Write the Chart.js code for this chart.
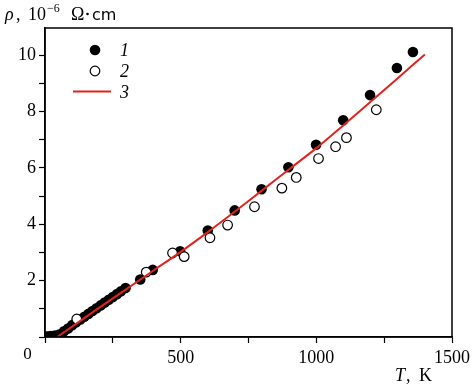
<!DOCTYPE html>
<html><head><meta charset="utf-8">
<script src="https://cdn.jsdelivr.net/npm/chart.js@4/dist/chart.umd.min.js"></script>
<style>html,body{margin:0;padding:0;background:#fff}</style>
</head><body>
<canvas id="c" width="474" height="385" style="width:474px;height:385px;display:block"></canvas>
<script>
// Series 1 (filled circles)
const tFilled = [8,15,22,30,38,55,70,85,100,115,130,145,160,175,190,205,220,235,250,265,280,297,351,397,498,600,699,798,897,999,1099,1198,1297,1356];
const rhoFilled = [0.02,0.02,0.03,0.03,0.05,0.1,0.2,0.3,0.42,0.52,0.62,0.72,0.82,0.92,1.02,1.12,1.22,1.32,1.42,1.52,1.62,1.74,2.04,2.38,3.04,3.78,4.49,5.24,6.02,6.82,7.69,8.58,9.54,10.11];
// Series 2 (open circles)
const tOpen = [117,373,470,513,608,673,772,873,926,1008,1071,1111,1221];
const rhoOpen = [0.64,2.30,2.98,2.85,3.52,3.97,4.62,5.28,5.66,6.33,6.75,7.07,8.06];
// Series 3 (calculated curve)
const tCurve = [45,100,200,300,400,500,600,700,800,900,1000,1100,1200,1300,1400];
const rhoCurve = [0,0.37,1.04,1.70,2.36,3.02,3.72,4.45,5.2,5.95,6.7,7.51,8.34,9.18,10.02];
// Axis ticks
const xTickLabels = [500,1000,1500];
const yTickLabels = [2,4,6,8,10];
const legendLabels = ['1','2','3'];

const pts = (xs, ys) => xs.map((x,i)=>({x:x,y:ys[i]}));
const RED = 'rgb(225,35,30)';
const SERIF = "'Liberation Serif', 'DejaVu Serif', serif";

const overlay = {
  id:'overlay',
  afterDraw(chart){
    const ctx = chart.ctx, a = chart.chartArea;
    ctx.save();
    ctx.strokeStyle = '#000'; ctx.lineWidth = 1.5;
    ctx.strokeRect(a.left, a.top, a.right-a.left, a.bottom-a.top);
    ctx.fillStyle = '#000';
    ctx.font = '17px ' + SERIF;
    ctx.textAlign = 'center'; ctx.textBaseline = 'middle';
    ctx.fillText('0', 27.5, 355);
    ctx.textAlign = 'left'; ctx.textBaseline = 'alphabetic';
    // y title
    ctx.font = 'italic 18px ' + SERIF; ctx.fillText('\u03C1', 5, 20);
    ctx.font = '18px ' + SERIF; ctx.fillText(',', 16, 20);
    ctx.fillText('10', 28, 20);
    ctx.font = '12px ' + SERIF; ctx.fillText('\u22126', 47, 12);
    ctx.font = '18px ' + SERIF; ctx.fillText('\u03A9', 71, 20);
    ctx.beginPath(); ctx.arc(87.5, 14, 1.3, 0, Math.PI*2); ctx.fill();
    ctx.font = "16px 'DejaVu Sans', sans-serif";
    ctx.fillText('cm', 92, 20);
    // x title
    ctx.font = 'italic 18px ' + SERIF; ctx.fillText('T', 395, 381);
    ctx.font = '18px ' + SERIF; ctx.fillText(',', 406, 381);
    ctx.fillText('K', 419, 381);
    // legend
    ctx.fillStyle = '#000';
    ctx.beginPath(); ctx.arc(95, 50, 5.3, 0, Math.PI*2); ctx.fill();
    ctx.beginPath(); ctx.arc(95, 71, 4.8, 0, Math.PI*2);
    ctx.fillStyle = '#fff'; ctx.fill(); ctx.lineWidth = 1.2; ctx.strokeStyle = '#000'; ctx.stroke();
    ctx.strokeStyle = RED; ctx.lineWidth = 2;
    ctx.beginPath(); ctx.moveTo(73, 91.5); ctx.lineTo(111, 91.5); ctx.stroke();
    ctx.fillStyle = '#000';
    ctx.font = 'italic 18px ' + SERIF;
    ctx.textBaseline = 'middle';
    legendLabels.forEach((l,i)=>ctx.fillText(l, 120, 51 + i*21));
    ctx.restore();
  }
};

new Chart(document.getElementById('c'), {
  type:'scatter',
  data:{datasets:[
    {label:'3', data:pts(tCurve,rhoCurve), showLine:true, borderColor:RED, borderWidth:2, pointRadius:0, tension:0.3, order:0},
    {label:'2', data:pts(tOpen,rhoOpen), pointRadius:4.8, pointBackgroundColor:'#fff', pointBorderColor:'#000', pointBorderWidth:1.2, order:1},
    {label:'1', data:pts(tFilled,rhoFilled), pointRadius:5.3, pointBackgroundColor:'#000', pointBorderColor:'#000', pointBorderWidth:0, order:2}
  ]},
  options:{
    responsive:false, animation:false, devicePixelRatio:1,
    layout:{padding:{top:28, right:19, left:0, bottom:0}},
    plugins:{legend:{display:false}, tooltip:{enabled:false}},
    scales:{
      x:{type:'linear', min:0, max:1500,
        afterFit(s){ s.height = 48; },
        border:{display:true, color:'#000', width:1.5},
        grid:{drawOnChartArea:false, tickLength:6, tickColor:'#000', tickWidth:1.2},
        ticks:{stepSize:250, maxRotation:0, autoSkip:false, padding:4, color:'#000',
          font:{family:SERIF, size:18},
          callback:v=> xTickLabels.includes(v) ? String(v) : ''}
      },
      y:{type:'linear', min:0, max:10.96,
        afterFit(s){ s.width = 45; },
        border:{display:true, color:'#000', width:1.5},
        grid:{drawOnChartArea:false, tickLength:6, tickWidth:1.2,
          tickColor:c=> (c.tick && c.tick.value > 10.5) ? 'rgba(0,0,0,0)' : '#000'},
        ticks:{stepSize:1, autoSkip:false, padding:3, color:'#000',
          font:{family:SERIF, size:18},
          callback:v=> yTickLabels.includes(v) ? String(v) : ''}
      }
    }
  },
  plugins:[overlay]
});
</script>
</body></html>
